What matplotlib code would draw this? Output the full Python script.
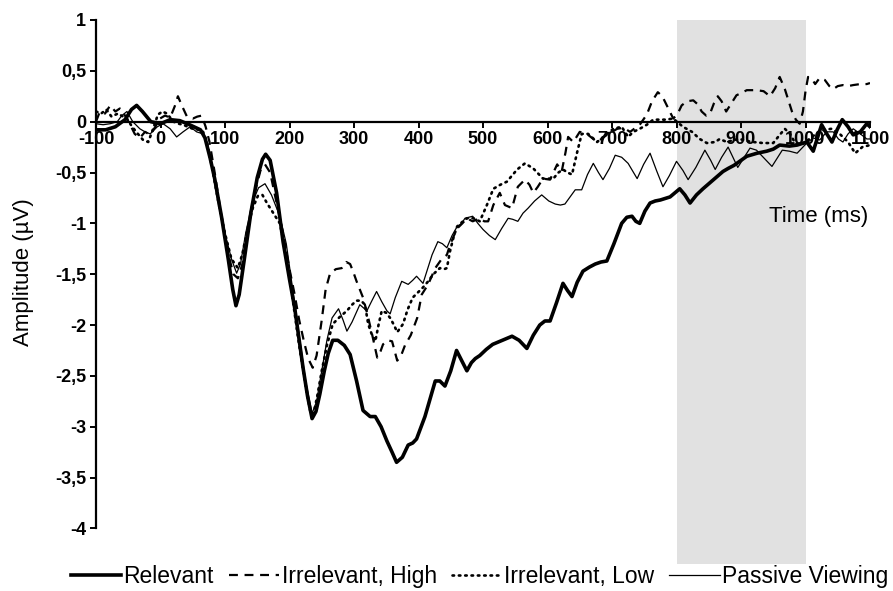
import matplotlib
matplotlib.use("Agg")
import matplotlib.pyplot as plt
from matplotlib.lines import Line2D

plt.rcParams['font.family'] = ['Liberation Sans', 'DejaVu Sans']

# ---- data ----
t_rel = [-100, -85, -70, -55, -45, -37, -28, -15, 0, 15, 30, 45, 55, 62, 69, 77, 84, 95, 105, 112,
         117, 122, 130, 140, 150, 158, 163, 170, 180, 190, 200, 208, 215, 221, 228, 235, 241, 247,
         254, 260, 267, 275, 285, 294, 304, 314, 325, 333, 342, 351, 359, 366, 375, 384, 391, 397,
         410, 426, 433, 441, 450, 459, 467, 475, 482, 488, 495, 505, 515, 530, 545, 556, 568, 578,
         588, 596, 604, 614, 624, 631, 638, 646, 655, 665, 674, 683, 692, 703, 715, 723, 731, 737,
         743, 751, 759, 767, 775, 790, 805, 813, 821, 831, 841, 852, 863, 872, 880, 889, 898, 909,
         925, 940, 950, 960, 975, 987, 1002, 1012, 1025, 1033, 1041, 1049, 1057, 1066, 1074, 1085,
         1095, 1100]
v_rel = [-0.08, -0.08, -0.05, 0.02, 0.12, 0.16, 0.1, 0.0, -0.02, 0.02, 0.01, -0.03, -0.06, -0.08,
         -0.16, -0.36, -0.56, -0.95, -1.35, -1.65, -1.81, -1.7, -1.35, -0.9, -0.55, -0.37, -0.32,
         -0.38, -0.7, -1.18, -1.55, -1.83, -2.15, -2.42, -2.7, -2.92, -2.85, -2.68, -2.45, -2.28,
         -2.15, -2.15, -2.2, -2.29, -2.55, -2.84, -2.9, -2.9, -3.0, -3.14, -3.25, -3.35, -3.3,
         -3.18, -3.16, -3.12, -2.9, -2.55, -2.55, -2.6, -2.45, -2.25, -2.35, -2.45, -2.37, -2.33,
         -2.3, -2.24, -2.19, -2.15, -2.11, -2.15, -2.23, -2.1, -2.0, -1.96, -1.96, -1.78, -1.59,
         -1.66, -1.72, -1.58, -1.47, -1.43, -1.4, -1.38, -1.37, -1.2, -1.0, -0.94, -0.93, -0.98,
         -1.0, -0.88, -0.8, -0.78, -0.77, -0.74, -0.66, -0.72, -0.8, -0.72, -0.66, -0.6, -0.54,
         -0.49, -0.46, -0.43, -0.39, -0.34, -0.31, -0.29, -0.27, -0.23, -0.24, -0.23, -0.2, -0.29,
         -0.03, -0.12, -0.2, -0.08, 0.02, -0.05, -0.13, -0.1, -0.02, -0.05]

t_high = [-100, -94, -86, -78, -70, -63, -55, -47, -40, -32, -24, -16, -8, -1, 7, 15, 22, 27, 33, 41,
          50, 57, 64, 70, 76, 84, 95, 105, 113, 120, 127, 136, 146, 155, 162, 170, 180, 190, 200,
          208, 215, 222, 229, 236, 242, 250, 256, 263, 272, 281, 288, 294, 299, 304, 314, 321, 328,
          336, 341, 345, 352, 359, 367, 373, 379, 388, 398, 405, 415, 426, 436, 444, 449, 455, 460,
          468, 475, 484, 495, 502, 508, 516, 526, 534, 545, 554, 565, 572, 578, 585, 593, 604, 615,
          622, 628, 632, 640, 650, 663, 677, 692, 708, 718, 728, 743, 754, 762, 771, 778, 785, 795,
          802, 808, 816, 826, 833, 839, 846, 852, 858, 864, 870, 877, 885, 893, 900, 909, 924, 935,
          945, 953, 960, 968, 974, 979, 985, 991, 996, 1000, 1004, 1010, 1015, 1022, 1030, 1037,
          1043, 1050, 1058, 1066, 1074, 1085, 1095, 1100]
v_high = [0.0, 0.1, 0.08, 0.16, 0.1, 0.13, 0.06, -0.03, -0.12, -0.16, -0.1, -0.13, -0.05, 0.03,
          0.06, 0.04, 0.15, 0.25, 0.16, 0.05, 0.03, 0.05, 0.06, -0.05, -0.2, -0.5, -0.95, -1.3,
          -1.5, -1.54, -1.4, -1.05, -0.7, -0.48, -0.42, -0.5, -0.8, -1.1, -1.45, -1.7, -1.95,
          -2.15, -2.33, -2.42, -2.3, -1.95, -1.65, -1.49, -1.45, -1.44, -1.38, -1.4, -1.48, -1.57,
          -1.73, -1.9, -2.09, -2.32, -2.26, -2.19, -2.15, -2.16, -2.35, -2.3, -2.2, -2.1, -1.93,
          -1.7, -1.6, -1.44, -1.35, -1.31, -1.21, -1.12, -1.05, -1.0, -0.95, -0.98, -0.95, -0.98,
          -0.98, -0.82, -0.7, -0.82, -0.85, -0.64, -0.57, -0.62, -0.7, -0.64, -0.56, -0.57, -0.42,
          -0.49, -0.3, -0.15, -0.2, -0.1, -0.13, -0.2, -0.13, -0.07, -0.06, -0.1, -0.03, 0.07, 0.2,
          0.29, 0.25, 0.16, 0.03, 0.08, 0.16, 0.2, 0.21, 0.17, 0.1, 0.06, 0.08, 0.18, 0.25, 0.2,
          0.1, 0.18, 0.26, 0.28, 0.31, 0.31, 0.3, 0.25, 0.33, 0.44, 0.32, 0.2, 0.1, 0.02, -0.02,
          0.1, 0.3, 0.44, 0.42, 0.37, 0.43, 0.41, 0.35, 0.32, 0.35, 0.36, 0.35, 0.36, 0.37, 0.37,
          0.38]

t_low = [-100, -92, -84, -76, -66, -58, -52, -44, -35, -27, -19, -12, -4, 3, 10, 20, 28, 35, 50, 60,
         66, 72, 80, 90, 100, 110, 120, 127, 135, 143, 151, 158, 165, 175, 185, 195, 205, 215, 225,
         232, 237, 243, 250, 258, 267, 278, 289, 297, 304, 311, 317, 322, 328, 333, 338, 343, 350,
         356, 362, 367, 376, 383, 391, 399, 407, 415, 423, 433, 440, 444, 449, 455, 460, 469, 475,
         485, 495, 506, 516, 527, 537, 553, 565, 578, 593, 609, 617, 624, 631, 638, 646, 653, 663,
         677, 692, 702, 715, 725, 733, 743, 754, 764, 782, 795, 810, 824, 836, 847, 860, 867, 878,
         889, 898, 909, 919, 934, 950, 960, 968, 976, 984, 991, 1000, 1010, 1020, 1030, 1040, 1053,
         1066, 1077, 1088, 1100]
v_low = [0.1, 0.08, 0.12, 0.05, 0.08, 0.05, 0.03, -0.05, -0.12, -0.18, -0.2, -0.08, 0.07, 0.1,
         0.08, 0.0, -0.02, -0.03, -0.07, -0.08, -0.1, -0.2, -0.45, -0.8, -1.1, -1.35, -1.44, -1.3,
         -1.05, -0.85, -0.73, -0.72, -0.8, -0.9, -1.0, -1.3, -1.75, -2.2, -2.6, -2.84, -2.88, -2.7,
         -2.45, -2.2, -1.99, -1.92, -1.86, -1.8, -1.76, -1.76, -1.8, -1.99, -2.1, -2.16, -2.0,
         -1.86, -1.88, -1.93, -2.0, -2.07, -1.99, -1.85, -1.73, -1.68, -1.63, -1.57, -1.5, -1.44,
         -1.45, -1.44, -1.27, -1.12, -1.03, -0.98, -0.95, -0.95, -0.98, -0.82, -0.66, -0.62, -0.59,
         -0.47, -0.41, -0.46, -0.56, -0.56, -0.5, -0.47, -0.5, -0.52, -0.3, -0.12, -0.12, -0.2,
         -0.12, -0.07, -0.05, -0.15, -0.1, -0.07, -0.03, 0.02, 0.02, 0.03, -0.05, -0.1, -0.17,
         -0.21, -0.2, -0.17, -0.2, -0.18, -0.17, -0.19, -0.2, -0.21, -0.21, -0.13, -0.07, -0.12,
         -0.21, -0.23, -0.2, -0.15, -0.1, -0.08, -0.07, -0.12, -0.2, -0.31, -0.25, -0.23]

t_pas = [-100, -89, -78, -67, -60, -52, -43, -32, -24, -16, -5, 4, 15, 25, 35, 46, 56, 66, 72, 80,
         90, 100, 110, 118, 124, 132, 142, 152, 162, 172, 185, 195, 205, 215, 225, 235, 242, 250,
         258, 266, 276, 283, 289, 297, 309, 320, 327, 335, 343, 351, 356, 364, 374, 384, 391, 397,
         407, 414, 421, 430, 437, 444, 452, 460, 467, 472, 484, 492, 500, 510, 519, 529, 539, 546,
         554, 562, 570, 580, 591, 602, 612, 620, 627, 635, 643, 653, 662, 671, 679, 686, 696, 705,
         715, 725, 739, 749, 759, 769, 779, 789, 800, 810, 818, 830, 844, 853, 860, 870, 880, 895,
         914, 924, 936, 948, 956, 964, 975, 987, 1002, 1012, 1022, 1033, 1043, 1051, 1058, 1066,
         1074, 1085, 1095, 1100]
v_pas = [-0.02, -0.03, -0.02, 0.0, 0.06, 0.1, 0.0, -0.07, -0.1, -0.12, -0.05, -0.02, -0.07, -0.15,
         -0.1, -0.05, -0.1, -0.12, -0.2, -0.45, -0.82, -1.1, -1.35, -1.49, -1.4, -1.1, -0.8, -0.65,
         -0.61, -0.72, -0.93, -1.2, -1.65, -2.1, -2.55, -2.87, -2.75, -2.45, -2.15, -1.93, -1.84,
         -1.95, -2.06, -1.97, -1.8, -1.86, -1.77, -1.67, -1.77, -1.86, -1.89, -1.73, -1.57, -1.6,
         -1.56, -1.52, -1.59, -1.45, -1.31, -1.18, -1.2, -1.24, -1.12, -1.03, -1.0, -0.95, -0.93,
         -1.0, -1.06, -1.12, -1.16, -1.05, -0.95, -0.96, -0.98, -0.9, -0.85, -0.78, -0.72, -0.78,
         -0.81, -0.82, -0.81, -0.74, -0.67, -0.67, -0.52, -0.41, -0.5, -0.57, -0.46, -0.33, -0.35,
         -0.41, -0.56, -0.42, -0.31, -0.48, -0.64, -0.53, -0.39, -0.48, -0.57, -0.45, -0.28, -0.38,
         -0.47, -0.35, -0.25, -0.45, -0.26, -0.28, -0.36, -0.44, -0.36, -0.28, -0.29, -0.31, -0.21,
         -0.16, -0.18, -0.1, -0.1, -0.17, -0.2, -0.12, -0.07, -0.12, -0.17, -0.17]

labels = ["Relevant", "Irrelevant, High", "Irrelevant, Low", "Passive Viewing"]
x_ticks = list(range(-100, 1101, 100))
y_ticks = [1, 0.5, 0, -0.5, -1, -1.5, -2, -2.5, -3, -3.5, -4]
y_ticklabels = ["1", "0,5", "0", "-0,5", "-1", "-1,5", "-2", "-2,5", "-3", "-3,5", "-4"]
window = (800, 1000)

fig = plt.figure(figsize=(8.93, 5.91), dpi=100)
ax = fig.add_axes([96 / 893, 1 - 564 / 591, 774 / 893, 544 / 591])

ax.axvspan(*window, color="#e1e1e1", lw=0, zorder=0)

ax.plot(t_rel, v_rel, color="black", lw=2.6, zorder=5)
ax.plot(t_high, v_high, color="black", lw=1.6, ls=(0, (4, 3)), zorder=5)
ax.plot(t_low, v_low, color="black", lw=1.9, ls=(0, (0.6, 1.8)), dash_capstyle="round", zorder=5)
ax.plot(t_pas, v_pas, color="black", lw=0.9, zorder=5)

ax.set_xlim(-100, 1100)
ax.set_ylim(-4.35, 1.0)

for s in ["top", "right"]:
    ax.spines[s].set_visible(False)
ax.spines["bottom"].set_position(("data", 0))
ax.spines["left"].set_bounds(-4, 1)
ax.spines["bottom"].set_linewidth(1.6)
ax.spines["left"].set_linewidth(1.6)
ax.spines["bottom"].set_zorder(4)

ax.set_xticks(x_ticks)
ax.set_xticklabels([str(v) for v in x_ticks], fontsize=13, fontweight="bold")
ax.set_yticks(y_ticks)
ax.set_yticklabels(y_ticklabels, fontsize=13, fontweight="bold")
ax.tick_params(axis="both", direction="out", length=4, width=1.4, pad=3)

ax.text(1097, -0.93, "Time (ms)", fontsize=16, ha="right", va="center")
fig.text(0.026, 1 - 272 / 591, "Amplitude (µV)", fontsize=16, rotation=90,
         ha="center", va="center")

handles = [
    Line2D([], [], color="black", lw=2.6),
    Line2D([], [], color="black", lw=1.6, ls=(0, (4, 3))),
    Line2D([], [], color="black", lw=1.9, ls=(0, (0.6, 1.8)), dash_capstyle="round"),
    Line2D([], [], color="black", lw=0.9),
]
fig.legend(handles, labels, loc="center", bbox_to_anchor=(0.537, 0.024), ncol=4,
           frameon=False, fontsize=16.5, handlelength=2.2, handletextpad=0.1,
           columnspacing=0.65, borderpad=0)

fig.savefig("out.png", dpi=100)
